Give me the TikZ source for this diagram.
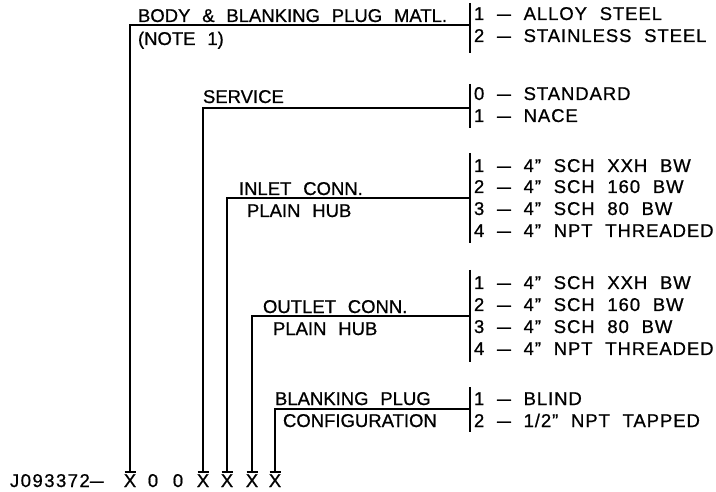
\documentclass[tikz,border=0pt]{standalone}
\usepackage{fontspec}
\setmainfont{Liberation Sans}[WordSpace=2.3, FakeBold=0.8]
\newfontfamily\optfont{Liberation Sans}[WordSpace=2.1, LetterSpace=5, FakeBold=0.8]
\newfontfamily\codefont{Liberation Sans}[LetterSpace=8, FakeBold=0.8]
\newcommand{\dsh}{\scalebox{1.35}[1]{–}}
\begin{document}
\begin{tikzpicture}[x=1pt,y=-1pt,
  every node/.style={inner sep=0pt, outer sep=0pt, font=\fontsize{18.5}{20}\selectfont},
  lbl/.style={anchor=base west},
  opt/.style={anchor=base west, font=\fontsize{18.5}{20}\optfont},
  code/.style={anchor=base},
  ln/.style={line width=1.6pt, line cap=butt}]
\useasboundingbox (0,0) rectangle (716,492);
% ---------- left labels
\node[lbl] (body)   at (138,22)  {BODY \& BLANKING PLUG MATL.};
\node[lbl] (note)   at (138,45)  {(NOTE 1)};
\node[lbl] (serv)   at (203,103) {SERVICE};
\node[lbl] (inl)    at (239,195) {INLET CONN.};
\node[lbl] (inlh)   at (247,217) {PLAIN HUB};
\node[lbl] (outl)   at (263,313) {OUTLET CONN.};
\node[lbl] (outlh)  at (273,335) {PLAIN HUB};
\node[lbl] (blank)  at (275,405) {BLANKING PLUG};
\node[lbl] (conf)   at (283,427) {CONFIGURATION};
% ---------- option lists
\node[opt] (o11) at (474,20)  {1 \dsh{} ALLOY STEEL};
\node[opt] (o12) at (474,42)  {2 \dsh{} STAINLESS STEEL};
\node[opt] (o21) at (474,100) {0 \dsh{} STANDARD};
\node[opt] (o22) at (474,122) {1 \dsh{} NACE};
\node[opt] (o31) at (474,172) {1 \dsh{} 4” SCH XXH BW};
\node[opt] (o32) at (474,193) {2 \dsh{} 4” SCH 160 BW};
\node[opt] (o33) at (474,215) {3 \dsh{} 4” SCH 80 BW};
\node[opt] (o34) at (474,237) {4 \dsh{} 4” NPT THREADED};
\node[opt] (o41) at (474,289) {1 \dsh{} 4” SCH XXH BW};
\node[opt] (o42) at (474,311) {2 \dsh{} 4” SCH 160 BW};
\node[opt] (o43) at (474,333) {3 \dsh{} 4” SCH 80 BW};
\node[opt] (o44) at (474,355) {4 \dsh{} 4” NPT THREADED};
\node[opt] (o51) at (474,405) {1 \dsh{} BLIND};
\node[opt] (o52) at (474,427) {2 \dsh{} 1/2” NPT TAPPED};
% ---------- code line
\node[anchor=base west, font=\fontsize{18.5}{20}\codefont] (pre) at (10,487) {J093372\dsh};
\node[code] (x1) at (130,487) {X};
\node[code] (z1) at (153,487) {0};
\node[code] (z2) at (178,487) {0};
\node[code] (x2) at (203,487) {X};
\node[code] (x3) at (227,487) {X};
\node[code] (x4) at (252,487) {X};
\node[code] (x5) at (275,487) {X};
% ---------- separators
\coordinate (s1t) at (470,3);   \coordinate (s1b) at (470,53);  \coordinate (s1h) at (470,25);
\coordinate (s2t) at (470,84);  \coordinate (s2b) at (470,128); \coordinate (s2h) at (470,108);
\coordinate (s3t) at (470,153); \coordinate (s3b) at (470,243); \coordinate (s3h) at (470,198);
\coordinate (s4t) at (470,270); \coordinate (s4b) at (470,362); \coordinate (s4h) at (470,316);
\coordinate (s5t) at (470,387); \coordinate (s5b) at (470,432); \coordinate (s5h) at (470,409);
\foreach \i in {1,...,5} {\draw[ln] (s\i t) -- (s\i b);}
% ---------- leader ends above the code letters
\foreach \i in {1,...,5} {
  \coordinate (e\i) at ([yshift=2.5pt]x\i.north);
  \draw[ln] ([xshift=-5.5pt]e\i) -- ([xshift=5.5pt]e\i);
}
\draw[ln] (s1h) -| (e1);
\draw[ln] (s2h) -| (e2);
\draw[ln] (s3h) -| (e3);
\draw[ln] (s4h) -| (e4);
\draw[ln] (s5h) -| (e5);
\end{tikzpicture}
\end{document}
